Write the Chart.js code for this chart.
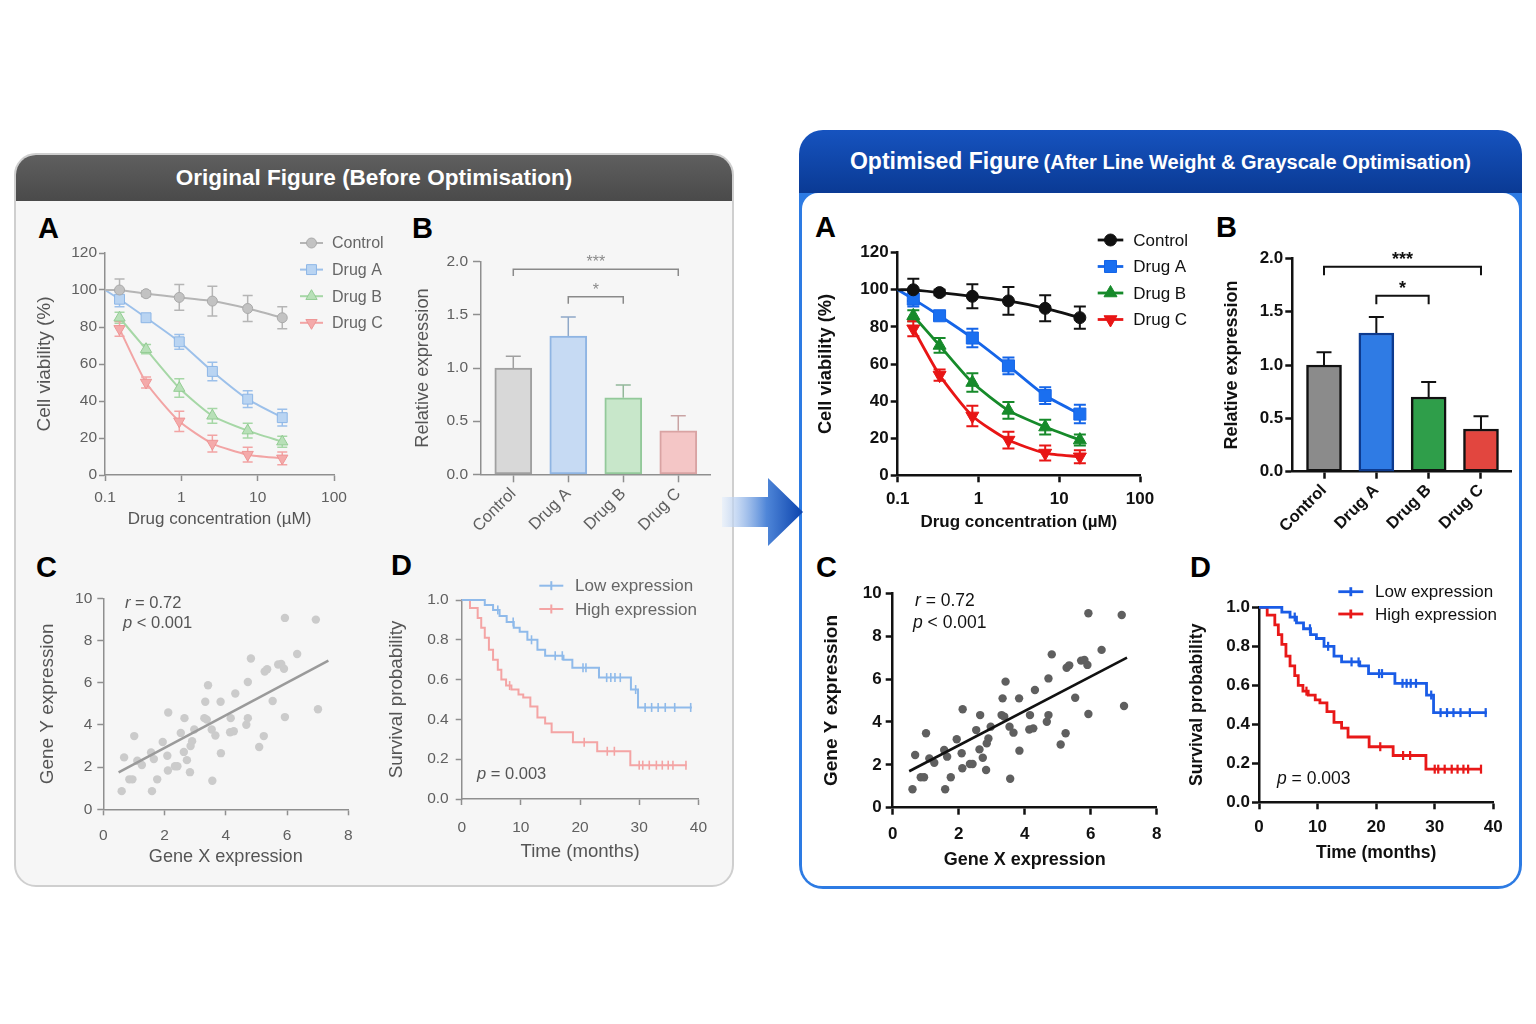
<!DOCTYPE html>
<html>
<head>
<meta charset="utf-8">
<script src="https://cdn.jsdelivr.net/npm/chart.js@4.4.1/dist/chart.umd.min.js"></script>
<style>
  html, body { margin: 0; padding: 0; background: #fff; }
  body { width: 1536px; height: 1024px; position: relative; overflow: hidden;
         font-family: "Liberation Sans", Arial, Helvetica, sans-serif; }
  canvas { position: absolute; }
  .t { position: absolute; white-space: nowrap; line-height: 20px; }
  .letter { position: absolute; font-weight: bold; font-size: 29px; line-height: 29px; color: #000; }
  #origPanel { position: absolute; left: 14px; top: 153px; width: 720px; height: 734px;
               box-sizing: border-box; border: 2px solid #cfcfcf; border-radius: 22px;
               background: #f6f6f6; overflow: hidden; }
  #origPanel .head { height: 46px; line-height: 46px; text-align: center; color: #fff;
                     font-size: 22.5px; font-weight: bold; background: linear-gradient(#5f5f5f, #4a4a4a); }
  #optPanel { position: absolute; left: 799px; top: 130px; width: 723px; height: 759px;
              border-radius: 24px; overflow: hidden;
              background: linear-gradient(to bottom, #1653bf 0px, #0a3a94 63px, #2d7be3 63px, #2d7be3 100%); }
  #optPanel .head { height: 62px; line-height: 62px; text-align: center; color: #fff; font-weight: bold; }
  #optPanel .body { position: absolute; left: 3px; right: 3px; top: 63px; bottom: 3px;
                    background: #fff; border-radius: 16px 16px 20px 20px; }
  #arrow { position: absolute; left: 722px; top: 476px; }
</style>
</head>
<body>

<div id="origPanel"><div class="head">Original Figure (Before Optimisation)</div></div>
<div id="optPanel">
  <div class="head"><span style="font-size:23px">Optimised Figure</span> <span style="font-size:20px">(After Line Weight &amp; Grayscale Optimisation)</span></div>
  <div class="body"></div>
</div>

<svg id="arrow" width="84" height="72" viewBox="0 0 84 72">
  <defs>
    <linearGradient id="ag" x1="0" y1="0" x2="1" y2="0">
      <stop offset="0" stop-color="#e4eefb" stop-opacity="0.6"/>
      <stop offset="0.55" stop-color="#4f86d8"/>
      <stop offset="1" stop-color="#0b43ad"/>
    </linearGradient>
  </defs>
  <polygon points="0,21 46,21 46,2 81,36 46,70 46,51 0,51" fill="url(#ag)"/>
</svg>

<div class="letter" style="left:38px;top:214px">A</div>
<div class="letter" style="left:412px;top:214px">B</div>
<div class="letter" style="left:36px;top:553px">C</div>
<div class="letter" style="left:391px;top:551px">D</div>
<div class="letter" style="left:815px;top:213px">A</div>
<div class="letter" style="left:1216px;top:213px">B</div>
<div class="letter" style="left:816px;top:553px">C</div>
<div class="letter" style="left:1190px;top:553px">D</div>

<canvas id="origA"></canvas>
<canvas id="origB"></canvas>
<canvas id="origC"></canvas>
<canvas id="origD"></canvas>
<canvas id="optA"></canvas>
<canvas id="optB"></canvas>
<canvas id="optC"></canvas>
<canvas id="optD"></canvas>

<div class="t" style="left:125px;top:592px;font-size:16.5px;color:#555"><i>r</i> = 0.72</div>
<div class="t" style="left:123px;top:612px;font-size:16.5px;color:#555"><i>p</i> &lt; 0.001</div>
<div class="t" style="left:477px;top:763px;font-size:16.5px;color:#555"><i>p</i> = 0.003</div>
<div class="t" style="left:915px;top:590px;font-size:17.5px;color:#111"><i>r</i> = 0.72</div>
<div class="t" style="left:913px;top:612px;font-size:17.5px;color:#111"><i>p</i> &lt; 0.001</div>
<div class="t" style="left:1277px;top:768px;font-size:17.5px;color:#111"><i>p</i> = 0.003</div>

<script>
// ---- Panel A: dose response (cell viability, %) ----
const origConc = [0.155, 0.345, 0.94, 2.55, 7.4, 21]
const origControl = [100, 98, 96, 94, 90, 85]
const origControlErr = [6, 1.5, 7, 8, 7, 6]
const origDrugA = [95, 85, 72, 56, 41, 31]
const origDrugAErr = [4, 2, 4, 5, 4.5, 4.5]
const origDrugB = [85, 68, 47, 32, 24, 18]
const origDrugBErr = [3, 2.5, 5, 4, 4, 3]
const origDrugC = [79, 50, 29, 17, 11, 9]
const origDrugCErr = [4, 3, 5.5, 4.5, 4, 3.5]

const optConc = [0.156, 0.33, 0.84, 2.35, 6.7, 18]
const optControl = [100, 98.5, 96.5, 94, 90, 85]
const optControlErr = [6, 1.5, 6.5, 7.5, 7, 6]
const optDrugA = [95, 86, 74, 59, 43, 33]
const optDrugAErr = [4, 2, 5, 4.5, 4.5, 5]
const optDrugB = [86, 70, 50, 35, 26, 19]
const optDrugBErr = [3, 4, 5, 4.5, 4, 3]
const optDrugC = [79, 54, 32, 19, 12, 10]
const optDrugCErr = [4, 3, 5.5, 4.5, 4, 3.5]

const concTicks = [0.1, 1, 10, 100]

// ---- Panel B: relative expression ----
const groups = ['Control', 'Drug A', 'Drug B', 'Drug C']
const origExpr = [1.0, 1.3, 0.72, 0.41]
const origExprErr = [0.11, 0.18, 0.12, 0.14]
const optExpr = [1.0, 1.3, 0.7, 0.4]
const optExprErr = [0.12, 0.15, 0.14, 0.12]
const sigPairs = [[0, 3, '***'], [1, 2, '*']]
const origSigLevels = [1.93, 1.67]
const optSigLevels = [1.92, 1.65]

// ---- Panel C: correlation ----
const geneX = [0.60, 0.68, 1.01, 0.85, 0.95, 1.11, 1.26, 1.56, 1.65, 1.59, 1.76, 1.94, 2.12, 2.09, 2.11,
  2.34, 2.42, 2.53, 2.65, 2.63, 2.73, 2.83, 2.90, 2.97, 2.85, 3.33, 3.30, 3.42, 3.38, 3.54,
  3.66, 3.56, 3.84, 3.83, 4.16, 4.14, 4.26, 4.31, 4.67, 4.72, 4.72, 4.82, 5.09, 5.24, 5.27,
  5.35, 5.53, 5.71, 5.81, 5.90, 5.93, 5.93, 6.33, 6.94, 7.01]
const geneY = [0.86, 2.46, 3.47, 1.42, 1.42, 2.30, 2.10, 2.69, 2.38, 0.86, 1.42, 3.19, 4.59, 2.54, 1.84,
  2.04, 2.04, 3.62, 4.32, 2.72, 2.33, 1.76, 3.23, 3.78, 3.00, 5.10, 4.32, 5.88, 4.25, 3.78,
  3.50, 1.35, 2.66, 5.10, 4.32, 3.65, 3.70, 5.49, 4.01, 4.32, 6.03, 7.15, 2.95, 3.47, 6.53,
  6.64, 5.13, 6.86, 6.89, 6.66, 4.37, 9.07, 7.36, 8.99, 4.74]
const origFitX = [0.5, 7.35]
const origFitY = [1.75, 7.05]
const optFitX = [0.5, 7.1]
const optFitY = [1.7, 7.0]

// ---- Panel D: Kaplan-Meier ----
const lowTimes = [0, 3.9, 5.3, 6.4, 7.6, 8.8, 9.8, 11.1, 12.8, 14.1, 17.2, 18.7, 23.2, 28.6, 29.8, 38.9]
const lowSurv = [1.0, 0.975, 0.95, 0.92, 0.89, 0.86, 0.84, 0.80, 0.75, 0.72, 0.70, 0.66, 0.61, 0.55, 0.46, 0.46]
const lowCensor = [6.1, 8.7, 11.8, 15.8, 17.0, 20.5, 21.0, 24.5, 25.2, 25.9, 26.8, 29.4, 31.0, 32.1, 33.2, 34.4, 36.0, 38.7]
const highTimes = [0, 1.4, 2.7, 3.3, 3.9, 4.6, 5.3, 6.1, 6.7, 7.5, 8.4, 9.6, 10.4, 11.6, 12.8, 14.1, 15.2, 18.8, 22.9, 28.5, 38.0]
const highSurv = [1.0, 0.96, 0.91, 0.86, 0.81, 0.75, 0.70, 0.65, 0.60, 0.57, 0.55, 0.525, 0.51, 0.465, 0.41, 0.38, 0.335, 0.285, 0.24, 0.17, 0.17]
const highCensor = [8.1, 20.7, 24.6, 25.8, 30.0, 30.6, 31.7, 32.9, 33.9, 34.9, 35.7, 37.9]

const FONT = '"Liberation Sans", Arial, Helvetica, sans-serif'
Chart.defaults.font.family = FONT
Chart.defaults.animation = false

const ORIG = {
  axis: '#8f8f8f', axisW: 1.5, tickLen: 6, label: '#606060', title: '#555',
  tickFont: { size: 15.5 }, titleWeight: 'normal', legendFont: '16px ' + FONT, legendColor: '#666'
}
const OPT = {
  axis: '#111', axisW: 2.5, tickLen: 7, label: '#111', title: '#111',
  tickFont: { size: 17, weight: 'bold' }, titleWeight: 'bold', legendFont: '17px ' + FONT, legendColor: '#111'
}

// Error bars drawn from the dataset's `errors` array
const errorBars = {
  id: 'errorBars',
  beforeDatasetsDraw(chart) {
    const { ctx } = chart
    const y = chart.scales.y
    chart.data.datasets.forEach((ds, i) => {
      if (!ds.errors) return
      const meta = chart.getDatasetMeta(i)
      ctx.save()
      ctx.lineWidth = ds.errorWidth
      meta.data.forEach((el, j) => {
        const err = ds.errors[j]
        if (err == null) return
        const v = ds.data[j].y
        const top = y.getPixelForValue(v + err)
        const bot = ds.errorUpOnly ? el.y : y.getPixelForValue(v - err)
        const half = ds.cap / 2
        ctx.strokeStyle = Array.isArray(ds.errorColor) ? ds.errorColor[j] : ds.errorColor
        ctx.beginPath()
        ctx.moveTo(el.x, bot)
        ctx.lineTo(el.x, top)
        ctx.moveTo(el.x - half, top)
        ctx.lineTo(el.x + half, top)
        if (!ds.errorUpOnly) {
          ctx.moveTo(el.x - half, bot)
          ctx.lineTo(el.x + half, bot)
        }
        ctx.stroke()
      })
      ctx.restore()
    })
  }
}

// Legend placed inside the canvas at fixed offsets
const inlineLegend = {
  id: 'inlineLegend',
  afterDraw(chart, args, o) {
    if (!o.items) return
    const { ctx } = chart
    o.items.forEach((idx, k) => {
      const ds = chart.data.datasets[idx]
      const y = o.y + k * o.dy
      ctx.save()
      ctx.strokeStyle = ds.borderColor
      ctx.lineWidth = ds.borderWidth
      ctx.beginPath()
      ctx.moveTo(o.x, y)
      ctx.lineTo(o.x + o.len, y)
      ctx.stroke()
      const cx = o.x + o.len / 2
      if (o.tick) {
        ctx.beginPath()
        ctx.moveTo(cx, y - 4.5)
        ctx.lineTo(cx, y + 4.5)
        ctx.stroke()
      } else {
        const r = Array.isArray(ds.pointRadius) ? ds.pointRadius[ds.pointRadius.length - 1] : ds.pointRadius
        ctx.fillStyle = ds.pointBackgroundColor
        ctx.strokeStyle = ds.pointBorderColor
        ctx.lineWidth = ds.pointBorderWidth
        Chart.helpers.drawPoint(ctx, { pointStyle: ds.pointStyle, rotation: ds.pointRotation || 0, radius: r, borderWidth: ds.pointBorderWidth }, cx, y)
      }
      ctx.fillStyle = o.color
      ctx.font = o.font
      ctx.textAlign = 'left'
      ctx.textBaseline = 'middle'
      ctx.fillText(ds.label, o.tx, y + 1)
      ctx.restore()
    })
  }
}

// Significance brackets over the bars
const brackets = {
  id: 'brackets',
  afterDatasetsDraw(chart, args, o) {
    if (!o.pairs) return
    const { ctx, scales: { x, y } } = chart
    o.pairs.forEach((p, k) => {
      const x1 = x.getPixelForValue(p[0])
      const x2 = x.getPixelForValue(p[1])
      const yy = y.getPixelForValue(o.levels[k])
      const yd = y.getPixelForValue(o.levels[k] - o.drop)
      ctx.save()
      ctx.strokeStyle = o.color
      ctx.lineWidth = o.width
      ctx.beginPath()
      ctx.moveTo(x1, yd)
      ctx.lineTo(x1, yy)
      ctx.lineTo(x2, yy)
      ctx.lineTo(x2, yd)
      ctx.stroke()
      ctx.fillStyle = o.color
      ctx.font = o.font
      ctx.textAlign = 'center'
      ctx.textBaseline = 'alphabetic'
      ctx.fillText(p[2], (x1 + x2) / 2, yy + o.gap)
      ctx.restore()
    })
  }
}

// titleOff: distance from the outer edge of the canvas to the title's centre line
function scale(t, o) {
  const titlePad = o.title ? o.titleOff - o.titleSize * 0.6 : 0
  const tl = o.tickLen || t.tickLen
  const s = {
    type: o.type || 'linear',
    min: o.min,
    max: o.max,
    offset: false,
    border: { display: true, color: t.axis, width: t.axisW },
    grid: { display: true, offset: false, drawOnChartArea: false, drawTicks: true, tickLength: tl, tickColor: t.axis, tickWidth: t.axisW },
    ticks: {
      color: t.label, font: o.tickFont || t.tickFont, padding: o.tickPad == null ? 3 : o.tickPad,
      stepSize: o.step, autoSkip: false, maxRotation: o.rot || 0, minRotation: o.rot || 0
    },
    title: o.title
      ? { display: true, text: o.title, color: t.title, font: { size: o.titleSize, weight: t.titleWeight }, padding: { top: titlePad, bottom: titlePad } }
      : { display: false },
    afterFit: (sc) => {
      if (o.fixW != null) sc.width = o.fixW
      if (o.fixH != null) sc.height = o.fixH
    }
  }
  if (o.values) s.afterBuildTicks = (sc) => { sc.ticks = o.values.map((v) => ({ value: v })) }
  if (o.fmt) s.ticks.callback = o.fmt
  return s
}

// canvas box and plot box in page pixels -> canvas placement and layout numbers
function frame(id, box, plot) {
  const cv = document.getElementById(id)
  cv.width = box.w
  cv.height = box.h
  cv.style.left = box.left + 'px'
  cv.style.top = box.top + 'px'
  return {
    ctx: cv.getContext('2d'),
    padding: { left: 0, top: plot.y0 - box.top, right: box.left + box.w - plot.x1, bottom: 0 },
    yW: plot.x0 - box.left,
    xH: box.top + box.h - plot.y1
  }
}

function doseSet(label, conc, vals, errs, st, from100) {
  const xs = from100 ? [0.1, ...conc] : conc
  const ys = from100 ? [100, ...vals] : vals
  const es = from100 ? [null, ...errs] : errs
  return {
    label,
    data: xs.map((x, i) => ({ x, y: ys[i] })),
    errors: es,
    borderColor: st.line, backgroundColor: st.fill,
    pointBackgroundColor: st.fill, pointBorderColor: st.edge, pointBorderWidth: st.pw,
    borderWidth: st.w, pointStyle: st.shape, pointRotation: st.rot || 0,
    pointRadius: xs.map((x, i) => (from100 && i === 0 ? 0 : st.r)),
    pointHoverRadius: st.r, tension: 0.2, clip: false,
    errorColor: st.line, errorWidth: st.ew, cap: st.cap
  }
}

function doseChart(id, t, box, plot, conc, series, legend, ax) {
  const f = frame(id, box, plot)
  return new Chart(f.ctx, {
    type: 'line',
    data: { datasets: series.map((s) => doseSet(s[0], conc, s[1], s[2], s[3], s[4])) },
    options: {
      responsive: false,
      layout: { padding: f.padding },
      plugins: { legend: { display: false }, tooltip: { enabled: false }, inlineLegend: legend },
      scales: {
        x: scale(t, { type: 'logarithmic', min: 0.1, max: 100, values: concTicks, fmt: (v) => String(v), fixH: f.xH, tickPad: 7,
          title: 'Drug concentration (\u00b5M)', titleSize: ax.xSize, titleOff: ax.xOff }),
        y: scale(t, { min: 0, max: 120, step: 20, fixW: f.yW, tickPad: 2,
          title: 'Cell viability (%)', titleSize: ax.ySize, titleOff: ax.yOff })
      }
    },
    plugins: [errorBars, inlineLegend]
  })
}

function barChart(id, t, box, plot, vals, errs, st) {
  const f = frame(id, box, plot)
  return new Chart(f.ctx, {
    type: 'bar',
    data: {
      datasets: [{
        data: vals.map((v, i) => ({ x: i, y: v })),
        errors: errs, errorUpOnly: true, errorColor: st.errColor, errorWidth: st.ew, cap: 15,
        backgroundColor: st.fill, borderColor: st.edge, borderWidth: st.bw,
        borderSkipped: false, barThickness: st.thick, clip: false
      }]
    },
    options: {
      responsive: false,
      layout: { padding: f.padding },
      plugins: { legend: { display: false }, tooltip: { enabled: false }, brackets: st.brackets },
      scales: {
        x: scale(t, { min: st.xMin, max: st.xMax, values: [0, 1, 2, 3], fmt: (v) => groups[v], rot: 45, fixH: f.xH,
          tickFont: st.xFont, tickPad: 2, tickLen: st.tickLen }),
        y: scale(t, { min: 0, max: 2, step: 0.5, fixW: f.yW, tickPad: st.yTickPad, tickLen: st.tickLen, fmt: (v) => v.toFixed(1),
          title: 'Relative expression', titleSize: st.ySize, titleOff: st.yOff })
      }
    },
    plugins: [errorBars, brackets]
  })
}

function scatterChart(id, t, box, plot, fitX, fitY, st) {
  const f = frame(id, box, plot)
  return new Chart(f.ctx, {
    type: 'scatter',
    data: {
      datasets: [
        { type: 'line', data: fitX.map((x, i) => ({ x, y: fitY[i] })), borderColor: st.fit, borderWidth: st.fitW, pointRadius: 0, clip: false },
        { data: geneX.map((x, i) => ({ x, y: geneY[i] })), backgroundColor: st.dot, borderColor: st.dot, borderWidth: 0, pointRadius: 4.2, clip: false }
      ]
    },
    options: {
      responsive: false,
      layout: { padding: f.padding },
      plugins: { legend: { display: false }, tooltip: { enabled: false } },
      scales: {
        x: scale(t, { min: 0, max: 8, step: 2, fixH: f.xH, tickPad: st.xTickPad,
          title: 'Gene X expression', titleSize: st.xSize, titleOff: st.xOff }),
        y: scale(t, { min: 0, max: 10, step: 2, fixW: f.yW, tickPad: st.yTickPad,
          title: 'Gene Y expression', titleSize: st.ySize, titleOff: st.yOff })
      }
    }
  })
}

function survAt(times, surv, tm) {
  let s = surv[0]
  for (let i = 0; i < times.length; i++) if (times[i] <= tm) s = surv[i]
  return s
}

function kmChart(id, t, box, plot, st) {
  const f = frame(id, box, plot)
  const curve = (label, times, surv, color) => ({
    label, data: times.map((x, i) => ({ x, y: surv[i] })), stepped: true,
    borderColor: color, borderWidth: st.w, pointRadius: 0, clip: false
  })
  const marks = (times, surv, cens, color) => ({
    data: cens.map((x) => ({ x, y: survAt(times, surv, x) })), showLine: false,
    pointStyle: 'line', pointRotation: 90, pointRadius: 4.5, borderColor: color, borderWidth: st.w * 0.8, clip: false
  })
  return new Chart(f.ctx, {
    type: 'line',
    data: {
      datasets: [
        marks(lowTimes, lowSurv, lowCensor, st.low),
        marks(highTimes, highSurv, highCensor, st.high),
        curve('Low expression', lowTimes, lowSurv, st.low),
        curve('High expression', highTimes, highSurv, st.high)
      ]
    },
    options: {
      responsive: false,
      layout: { padding: f.padding },
      plugins: { legend: { display: false }, tooltip: { enabled: false }, inlineLegend: st.legend },
      scales: {
        x: scale(t, { min: 0, max: 40, step: 10, fixH: f.xH, tickPad: st.xTickPad,
          title: 'Time (months)', titleSize: st.xSize, titleOff: st.xOff }),
        y: scale(t, { min: 0, max: 1, step: 0.2, fixW: f.yW, tickPad: st.yTickPad, fmt: (v) => v.toFixed(1),
          title: 'Survival probability', titleSize: st.ySize, titleOff: st.yOff })
      }
    },
    plugins: [inlineLegend]
  })
}

// ---------- Original figure ----------
const oCtl = { line: '#b5b5b5', fill: '#c2c2c2', edge: '#a9a9a9', shape: 'circle', r: 5, pw: 1, w: 2, ew: 1.5, cap: 10 }
const oA = { line: '#9cc0ea', fill: '#b9d4f2', edge: '#8db6e6', shape: 'rect', r: 7, pw: 1, w: 2, ew: 1.5, cap: 10 }
const oB = { line: '#a6d7a6', fill: '#b8e0b8', edge: '#93cc93', shape: 'triangle', r: 6.5, pw: 1, w: 2, ew: 1.5, cap: 10 }
const oC = { line: '#f2a4a4', fill: '#f4aaaa', edge: '#ee9494', shape: 'triangle', rot: 180, r: 6.5, pw: 1, w: 2, ew: 1.5, cap: 10 }

doseChart('origA', ORIG, { left: 30, top: 228, w: 370, h: 312 }, { x0: 105, x1: 334, y0: 253, y1: 475 }, origConc, [
  ['Control', origControl, origControlErr, oCtl, true],
  ['Drug A', origDrugA, origDrugAErr, oA, true],
  ['Drug B', origDrugB, origDrugBErr, oB, false],
  ['Drug C', origDrugC, origDrugCErr, oC, false]
], { items: [0, 1, 2, 3], x: 270, len: 23, tx: 302, y: 15, dy: 26.6, font: ORIG.legendFont, color: ORIG.legendColor },
{ xSize: 17, xOff: 21, ySize: 19, yOff: 15 })

barChart('origB', ORIG, { left: 405, top: 240, w: 320, h: 305 }, { x0: 481, x1: 710, y0: 261.7, y1: 474.3 }, origExpr, origExprErr, {
  fill: ['#d8d8d8', '#c6daf3', '#c8e7ca', '#f4c6c6'],
  edge: ['#a0a0a0', '#8fb5e3', '#93c99a', '#d9a3a3'],
  errColor: ['#a0a0a0', '#8fa8c8', '#93b89a', '#c9a3a3'],
  bw: 2, ew: 1.5, thick: 37, xMin: -0.587, xMax: 3.577, xFont: { size: 16.5 }, ySize: 18.3, yOff: 18,
  tickLen: 8, yTickPad: 5,
  brackets: { pairs: sigPairs, levels: origSigLevels, drop: 0.065, color: '#8a8a8a', width: 1.5, font: '16px ' + FONT, gap: -2 }
})

scatterChart('origC', ORIG, { left: 30, top: 575, w: 340, h: 300 }, { x0: 103.3, x1: 348.3, y0: 598.3, y1: 809.3 }, origFitX, origFitY, {
  dot: '#cbcbcb', fit: '#9a9a9a', fitW: 2.5, xSize: 18.1, xOff: 18.3, ySize: 18.9, yOff: 18, xTickPad: 11, yTickPad: 5
})

kmChart('origD', ORIG, { left: 380, top: 570, w: 340, h: 305 }, { x0: 461.7, x1: 699, y0: 600, y1: 799 }, {
  low: '#8fbaea', high: '#f4a4a4', w: 2, xSize: 18.6, xOff: 23.3, ySize: 18.8, yOff: 16.7, xTickPad: 13, yTickPad: 7,
  legend: { items: [2, 3], tick: true, x: 159.3, len: 24, tx: 195, y: 15.7, dy: 23.3, font: '17px ' + FONT, color: '#666' }
})

// ---------- Optimised figure ----------
const pCtl = { line: '#111', fill: '#111', edge: '#111', shape: 'circle', r: 6, pw: 1, w: 2.8, ew: 2, cap: 12 }
const pA = { line: '#1565e8', fill: '#1a6ff0', edge: '#1565e8', shape: 'rect', r: 8.5, pw: 1, w: 2.8, ew: 2, cap: 12 }
const pB = { line: '#168a2a', fill: '#168a2a', edge: '#168a2a', shape: 'triangle', r: 7.5, pw: 1, w: 2.8, ew: 2, cap: 12 }
const pC = { line: '#e81515', fill: '#e81515', edge: '#e81515', shape: 'triangle', rot: 180, r: 7.5, pw: 1, w: 2.8, ew: 2, cap: 12 }

doseChart('optA', OPT, { left: 810, top: 225, w: 390, h: 320 }, { x0: 897.7, x1: 1140, y0: 252.7, y1: 475.3 }, optConc, [
  ['Control', optControl, optControlErr, pCtl, true],
  ['Drug A', optDrugA, optDrugAErr, pA, true],
  ['Drug B', optDrugB, optDrugBErr, pB, false],
  ['Drug C', optDrugC, optDrugCErr, pC, false]
], { items: [0, 1, 2, 3], x: 287.7, len: 25.6, tx: 323.3, y: 15, dy: 26.5, font: OPT.legendFont, color: OPT.legendColor },
{ xSize: 17, xOff: 22.3, ySize: 18.3, yOff: 16 })

barChart('optB', OPT, { left: 1205, top: 235, w: 313, h: 310 }, { x0: 1292.3, x1: 1511.7, y0: 258.3, y1: 471.7 }, optExpr, optExprErr, {
  fill: ['#8b8b8b', '#2f7be4', '#2f9e4a', '#e2463f'],
  edge: ['#111', '#0d3a8e', '#111', '#111'],
  errColor: '#111',
  bw: 2.5, ew: 2, thick: 35, xMin: -0.606, xMax: 3.587, xFont: { size: 16.5, weight: 'bold' }, ySize: 18, yOff: 26.7,
  tickLen: 7, yTickPad: 2,
  brackets: { pairs: sigPairs, levels: optSigLevels, drop: 0.08, color: '#111', width: 2, font: 'bold 18px ' + FONT, gap: -1.5 }
})

scatterChart('optC', OPT, { left: 810, top: 570, w: 365, h: 310 }, { x0: 892.7, x1: 1156.7, y0: 593.3, y1: 807.7 }, optFitX, optFitY, {
  dot: '#5f5f5f', fit: '#111', fitW: 2.6, xSize: 18, xOff: 20, ySize: 19, yOff: 21.7, xTickPad: 9, yTickPad: 4
})

kmChart('optD', OPT, { left: 1180, top: 575, w: 335, h: 305 }, { x0: 1259, x1: 1493.3, y0: 607.3, y1: 802.3 }, {
  low: '#1a5ce6', high: '#e81818', w: 2.8, xSize: 17.5, xOff: 26.7, ySize: 17.5, yOff: 16.7, xTickPad: 8, yTickPad: 2,
  legend: { items: [2, 3], tick: true, x: 158.3, len: 25, tx: 195, y: 16.7, dy: 22.3, font: '17px ' + FONT, color: '#111' }
})
</script>
</body>
</html>
